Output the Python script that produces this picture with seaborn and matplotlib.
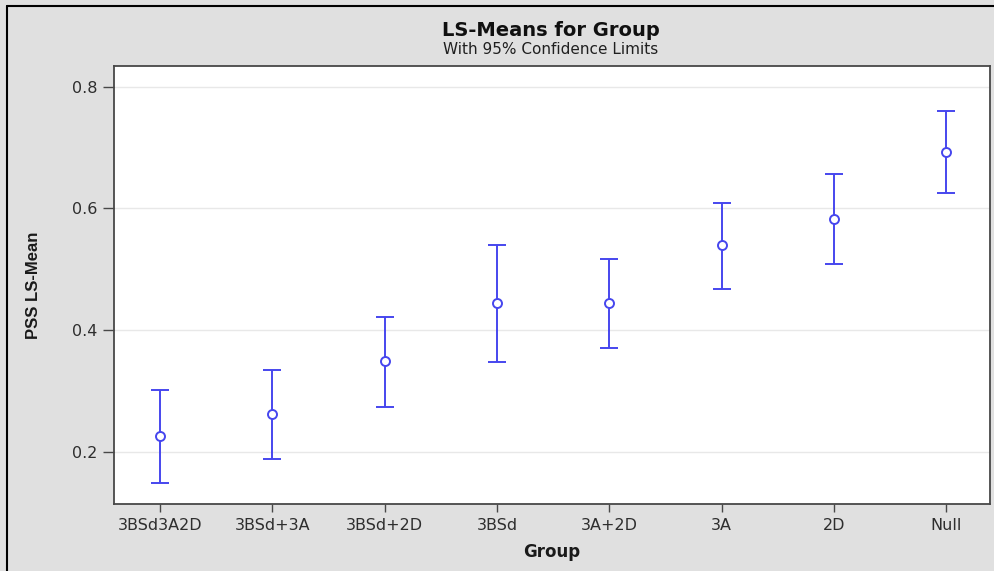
import matplotlib
matplotlib.use("Agg")
import matplotlib.pyplot as plt
import seaborn as sns
import pandas as pd
from matplotlib.lines import Line2D

groups = ["3BSd3A2D", "3BSd+3A", "3BSd+2D", "3BSd", "3A+2D", "3A", "2D", "Null"]
means = [0.225, 0.262, 0.349, 0.444, 0.444, 0.539, 0.583, 0.692]
lower = [0.149, 0.188, 0.274, 0.348, 0.371, 0.467, 0.508, 0.626]
upper = [0.301, 0.334, 0.421, 0.539, 0.517, 0.608, 0.657, 0.760]
yticks = [0.2, 0.4, 0.6, 0.8]

df = pd.DataFrame({"Group": groups, "Mean": means, "Lower": lower, "Upper": upper})

sns.set_theme(style="white")
plt.rcParams["font.family"] = ["DejaVu Sans"]

bg = "#e0e0e0"
blue = "#4646ee"
fig = plt.figure(figsize=(9.95, 5.71), dpi=100, facecolor=bg)
ax = fig.add_axes([114/995, 1-504/571, (990-114)/995, (504-66)/571])
ax.set_facecolor("white")

ax.errorbar(range(len(groups)), df["Mean"],
            yerr=[df["Mean"] - df["Lower"], df["Upper"] - df["Mean"]],
            fmt="none", ecolor=blue, elinewidth=1.4, capsize=6.2, capthick=1.4, zorder=3)
sns.scatterplot(data=df, x="Group", y="Mean", ax=ax, marker="o", s=42,
                facecolor="white", edgecolor=blue, linewidth=1.4, zorder=4)

ax.set_xlim(-0.41, 7.39)
ax.set_ylim(0.114, 0.834)
ax.set_yticks(yticks)
ax.set_yticklabels([f"{t:.1f}" for t in yticks])
ax.yaxis.grid(True, color="#e8e8e8", linewidth=1)
ax.xaxis.grid(False)
ax.set_axisbelow(True)
for s in ax.spines.values():
    s.set_color("#484848")
    s.set_linewidth(1.3)
ax.tick_params(axis="both", which="both", direction="out", width=1,
               color="#484848", labelsize=11.5, labelcolor="#2e2e2e")
ax.tick_params(axis="x", bottom=True, length=6, pad=4)
ax.tick_params(axis="y", left=True, length=8, pad=4)

ax.set_xlabel("Group", fontsize=12, fontweight="bold", labelpad=7, color="#1a1a1a")
ax.set_ylabel("PSS LS-Mean", fontsize=12, fontweight="bold", labelpad=22, color="#1a1a1a",
              family=["Liberation Sans", "DejaVu Sans"])

fig.text(551/995, 1-31/571, "LS-Means for Group", ha="center", va="center",
         fontsize=14, fontweight="bold", color="#101010")
fig.text(551/995, 1-50/571, "With 95% Confidence Limits", ha="center", va="center",
         fontsize=11, color="#202020")

# figure border lines (top and left)
fig.add_artist(Line2D([7/995, 1], [1-6/571, 1-6/571], transform=fig.transFigure, color="black", linewidth=1.5))
fig.add_artist(Line2D([7/995, 7/995], [0, 1-6/571], transform=fig.transFigure, color="black", linewidth=1.5))

fig.savefig("out.png", dpi=100, facecolor=bg)
